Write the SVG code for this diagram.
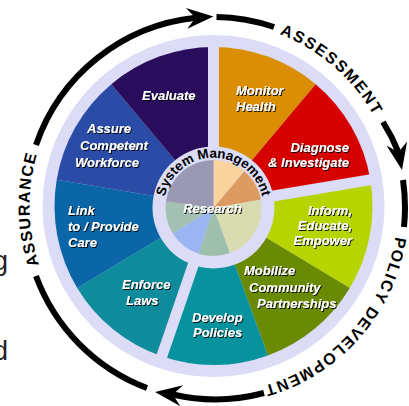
<svg xmlns="http://www.w3.org/2000/svg" width="409" height="406" viewBox="0 0 409 406">
<defs>
<style>
.lbl{font-family:"Liberation Sans",Arial,sans-serif;font-weight:bold;font-style:italic;font-size:13px;fill:#fff;filter:url(#sh)}
.end{text-anchor:end}
.mid{text-anchor:middle}
.ring{font-family:"Liberation Sans",Arial,sans-serif;font-weight:bold;font-size:16px;fill:#000}
.sys{font-family:"Liberation Sans",Arial,sans-serif;font-weight:bold;font-size:13.5px;fill:#000}
.arc{fill:none;stroke:#000;stroke-width:6}
.lav{fill:#dcdcf6}
.frag{font-family:"Liberation Sans",Arial,sans-serif;font-size:27px;fill:#222}
</style>
<filter id="sh" x="-10%" y="-20%" width="130%" height="160%"><feDropShadow dx="1" dy="1" stdDeviation="0.5" flood-color="#000" flood-opacity="0.9"/></filter>
<path id="head" d="M0,0 L-27,-10.5 L-18,0 L-27,10.5 Z"/>
<path id="tpAssess" d="M153.6,32 A184,184 0 0 1 394.1,241.1"/>
<path id="tpPolicy" d="M388,150.6 A184,184 0 0 1 176.8,389.3"/>
<path id="tpAssure" d="M124.3,366.9 A184,184 0 0 1 118.7,48.3"/>
<path id="tpSys" d="M164.3,216.7 A50,50 0 1 1 262.7,216.7"/>
</defs>
<rect width="409" height="406" fill="#fff"/>
<text class="frag" x="-7" y="270">g</text>
<text class="frag" x="-7" y="360">d</text>
<circle class="lav" cx="213.5" cy="206" r="171"/>
<g id="monitor-health"><path fill="#d98e04" d="M213.5,206 L213.5,47 A159,159 0 0 1 315.7,84.2 Z"/><text class="lbl" x="236" y="95">Monitor</text><text class="lbl" x="236" y="111">Health</text></g>
<g id="diagnose-investigate"><path fill="#d60202" d="M213.5,206 L315.7,84.2 A159,159 0 0 1 370.3,179.8 Z"/><text class="lbl end" x="349" y="152">Diagnose</text><text class="lbl end" x="349" y="167">&amp; Investigate</text></g>
<g id="inform-educate-empower"><path fill="#b6d400" d="M213.5,206 L370.3,179.8 A159,159 0 0 1 349.8,287.9 Z"/><text class="lbl end" x="352" y="215">Inform,</text><text class="lbl end" x="352" y="230">Educate,</text><text class="lbl end" x="352" y="245">Empower</text></g>
<g id="mobilize-community-partnerships"><path fill="#6a8a04" d="M213.5,206 L349.8,287.9 A159,159 0 0 1 267.9,355.4 Z"/><text class="lbl" x="244" y="275">Mobilize</text><text class="lbl" x="249" y="292">Community</text><text class="lbl" x="257" y="308">Partnerships</text></g>
<g id="develop-policies"><path fill="#07929e" d="M213.5,206 L267.9,355.4 A159,159 0 0 1 161.7,356.3 Z"/><text class="lbl" x="192" y="322">Develop</text><text class="lbl" x="193" y="337">Policies</text></g>
<g id="enforce-laws"><path fill="#0e8c9c" d="M213.5,206 L161.7,356.3 A159,159 0 0 1 77.2,287.9 Z"/><text class="lbl" x="122" y="289">Enforce</text><text class="lbl" x="126" y="305">Laws</text></g>
<g id="link-provide-care"><path fill="#0a66a6" d="M213.5,206 L77.2,287.9 A159,159 0 0 1 56.7,179.8 Z"/><text class="lbl" x="68" y="215">Link</text><text class="lbl" x="68" y="231">to / Provide</text><text class="lbl" x="68" y="247">Care</text></g>
<g id="assure-competent-workforce"><path fill="#2a4ba6" d="M213.5,206 L56.7,179.8 A159,159 0 0 1 111.3,84.2 Z"/><text class="lbl" x="87" y="133">Assure</text><text class="lbl" x="80" y="150">Competent</text><text class="lbl" x="75" y="167">Workforce</text></g>
<g id="evaluate"><path fill="#2a0c5c" d="M213.5,206 L111.3,84.2 A159,159 0 0 1 213.5,47 Z"/><text class="lbl" x="142" y="100">Evaluate</text></g>
<g id="gaps">
<rect class="lav" x="-5.5" y="-166" width="11" height="166" transform="translate(213.5,206) rotate(0)"/>
<rect class="lav" x="-5.5" y="-166" width="11" height="166" transform="translate(213.5,206) rotate(80.5)"/>
<rect class="lav" x="-5.5" y="-166" width="11" height="166" transform="translate(213.5,206) rotate(199)"/>
</g>
<g id="system-management">
<circle class="lav" cx="213.5" cy="207.5" r="61"/>
<text class="sys"><textPath href="#tpSys" startOffset="50%" text-anchor="middle">System Management</textPath></text>
</g>
<g id="research">
<path fill="#fbd39e" d="M213.5,208 L213.5,160 A48,48 0 0 1 244.4,171.2 Z"/>
<path fill="#dd9b62" d="M213.5,208 L244.4,171.2 A48,48 0 0 1 260.8,199.7 Z"/>
<path fill="#d9dbb0" d="M213.5,208 L260.8,199.7 A48,48 0 0 1 229.9,253.1 Z"/>
<path fill="#9dbfac" d="M213.5,208 L229.9,253.1 A48,48 0 0 1 198.7,253.7 Z"/>
<path fill="#9bb4f2" d="M213.5,208 L198.7,253.7 A48,48 0 0 1 172.8,233.4 Z"/>
<path fill="#a3c1b2" d="M213.5,208 L172.8,233.4 A48,48 0 0 1 166,201.3 Z"/>
<path fill="#9a98b3" d="M213.5,208 L166,201.3 A48,48 0 0 1 213.5,160 Z"/>
<text class="lbl mid" x="212.5" y="213">Research</text>
</g>
<g id="connectors">
<path class="arc" d="M36,145 A190,190 0 0 1 195.5,17.8"/>
<use href="#head" transform="translate(213.5,16.5) rotate(-4)"/>
<path class="arc" d="M216.5,17 A190,190 0 0 1 274,27"/>
<path class="arc" d="M383,122 A190,190 0 0 1 398.5,152.3"/>
<use href="#head" transform="translate(402,170) rotate(78.9)"/>
<path class="arc" d="M403,180 A190,190 0 0 1 404,227"/>
<path class="arc" d="M264,393 A190,190 0 0 1 172.8,394.5"/>
<use href="#head" transform="translate(155,392) rotate(188)"/>
<path class="arc" d="M147,388 A190,190 0 0 1 36,276"/>
</g>
<g id="phase-labels">
<text class="ring" letter-spacing="1.8"><textPath href="#tpAssess" startOffset="50%" text-anchor="middle">ASSESSMENT</textPath></text>
<text class="ring" letter-spacing="1.4"><textPath href="#tpPolicy" startOffset="50%" text-anchor="middle">POLICY DEVELOPMENT</textPath></text>
<text class="ring" letter-spacing="1.3"><textPath href="#tpAssure" startOffset="50%" text-anchor="middle">ASSURANCE</textPath></text>
</g>
</svg>
